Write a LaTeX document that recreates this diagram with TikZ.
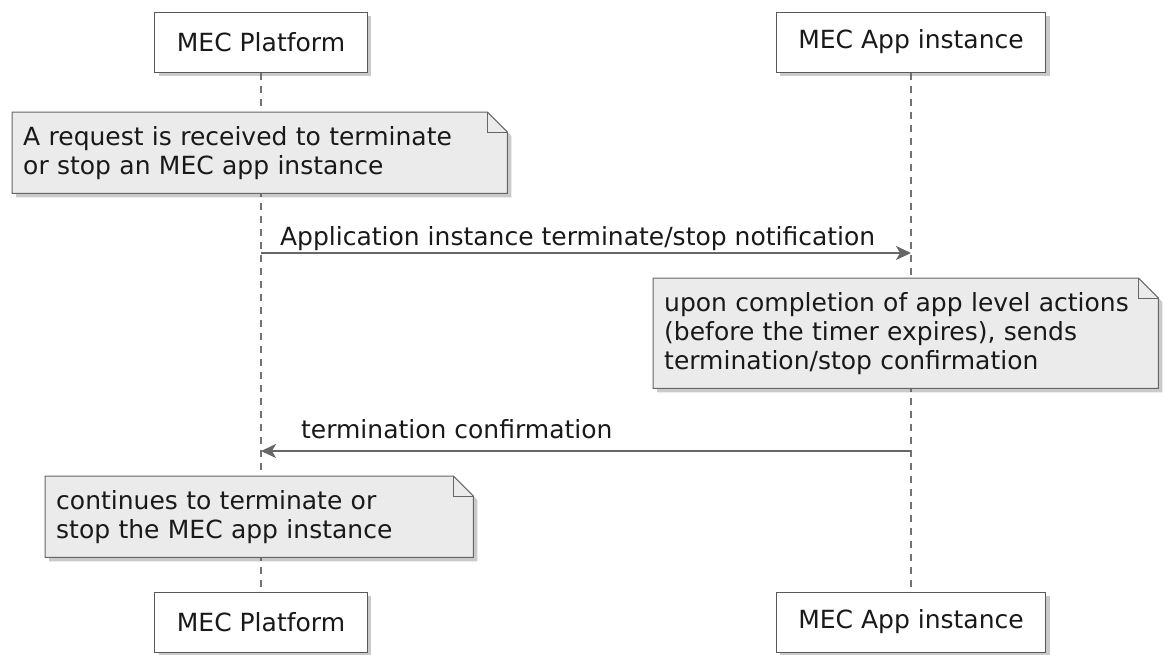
\documentclass[tikz,border=0pt]{standalone}
\usepackage{fontspec}
\setmainfont{DejaVu Sans}
\usetikzlibrary{arrows.meta,shadows,backgrounds}

\begin{document}
\begin{tikzpicture}[x=1pt,y=-1pt,>={Stealth[length=15pt,width=14pt,inset=4pt]},
		every node/.style={font=\fontsize{25}{29}\selectfont,text=black!90},
		actor/.style={draw=black!65,line width=1pt,fill=white,minimum height=60pt,inner xsep=22pt,
			drop shadow={shadow xshift=4pt,shadow yshift=-4pt,opacity=0.35,fill=black!60}},
		note/.style={align=left,inner xsep=11pt,anchor=north west},
		notebg/.style={draw=black!60,line width=1pt,fill=black!8,
			drop shadow={shadow xshift=4pt,shadow yshift=-4pt,opacity=0.35,fill=black!60}},
		life/.style={draw=black!55,line width=1.2pt,dash pattern=on 7pt off 6pt},
		msg/.style={draw=black!60,line width=1.5pt,->}]
	\useasboundingbox (0,0) rectangle (1165,654);
	% participants
	\node[actor] (pfTop) at (261,42) {MEC Platform};
	\node[actor] (appTop) at (911,42) {MEC App instance};
	\node[actor] (pfBot) at (261,622) {MEC Platform};
	\node[actor] (appBot) at (911,622) {MEC App instance};
	% notes
	\node[note,text width=473pt,minimum height=81pt] (reqNote) at (12,112)
		{A request is received to terminate\\or stop an MEC app instance};
	\node[note,text width=483pt,minimum height=110pt] (confNote) at (653,278)
		{upon completion of app level actions\\(before the timer expires), sends\\termination/stop confirmation};
	\node[note,text width=406pt,minimum height=81pt] (contNote) at (45,476)
		{continues to terminate or\\stop the MEC app instance};
	\begin{scope}[on background layer]
		\draw[life] (pfTop.south) -- (pfBot.north);
		\draw[life] (appTop.south) -- (appBot.north);
		\foreach \n in {reqNote,confNote,contNote} {
			\path[notebg] (\n.north west) -- ([xshift=-20pt]\n.north east) -- ([yshift=-20pt]\n.north east)
				-- (\n.south east) -- (\n.south west) -- cycle;
			\draw[draw=black!60,line width=1pt] ([xshift=-20pt]\n.north east) -- ([xshift=-20pt,yshift=-20pt]\n.north east)
				-- ([yshift=-20pt]\n.north east);
		}
	\end{scope}
	% messages
	\coordinate (notifyFrom) at (pfTop.south |- 0,253);
	\coordinate (notifyTo) at (appTop.south |- 0,253);
	\coordinate (confFrom) at (appTop.south |- 0,451);
	\coordinate (confTo) at (pfTop.south |- 0,451);
	\draw[msg] (notifyFrom) -- (notifyTo)
		node[at start,anchor=base west,xshift=15pt,yshift=8pt] {Application instance terminate/stop notification};
	\draw[msg] (confFrom) -- (confTo)
		node[at end,anchor=base west,xshift=36pt,yshift=13pt] {termination confirmation};
\end{tikzpicture}
\end{document}
